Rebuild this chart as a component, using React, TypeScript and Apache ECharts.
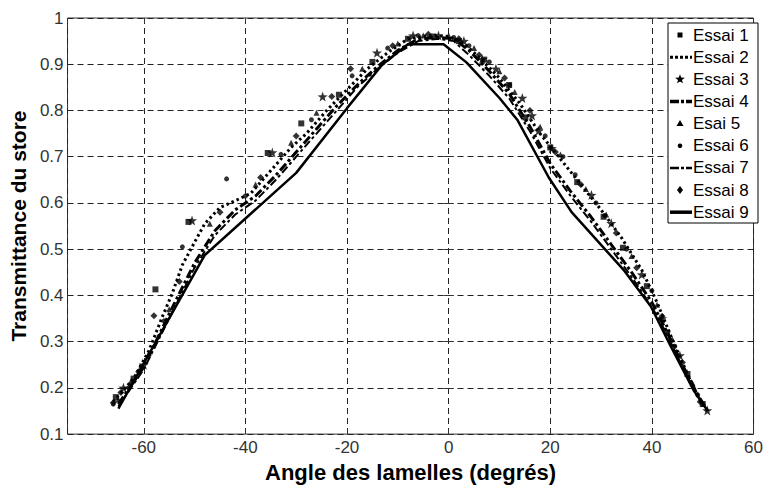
import React, { useEffect, useRef } from 'react';
import * as echarts from 'echarts';

const FONT = '"Liberation Sans", Arial, Helvetica, sans-serif';

const seriesNames = ['Essai 1', 'Essai 2', 'Essai 3', 'Essai 4', 'Esai 5', 'Essai 6', 'Essai 7', 'Essai 8', 'Essai 9'];
const xAxisTitle = 'Angle des lamelles (degrés)';
const yAxisTitle = 'Transmittance du store';

// Essai 1 – squares
const essai1: number[][] = [
  [-65.5, 0.18], [-62, 0.22], [-57.7, 0.413], [-51.2, 0.559], [-35.6, 0.708], [-29, 0.772],
  [-21.6, 0.834], [-15, 0.905], [-8, 0.955], [-3, 0.96], [2, 0.95], [7, 0.91], [11.9, 0.855],
  [15.1, 0.785], [20, 0.72], [25.3, 0.645], [30.5, 0.57], [34.3, 0.503], [39, 0.42], [43, 0.32],
  [47, 0.23], [50, 0.165],
];
// Essai 2 – dotted line
const essai2: number[][] = [
  [-66, 0.17], [-62, 0.22], [-59, 0.28], [-56.3, 0.355], [-54.4, 0.404], [-52.4, 0.466], [-50, 0.515],
  [-48, 0.555], [-45, 0.59], [-42, 0.605], [-39, 0.62], [-35, 0.67], [-31, 0.72], [-28, 0.75],
  [-24, 0.8], [-20, 0.845], [-16, 0.89], [-12, 0.925], [-8, 0.955], [-4, 0.962], [0, 0.96], [3, 0.945],
  [6, 0.915], [10, 0.87], [14, 0.815], [18, 0.75], [22, 0.695], [26, 0.64], [30, 0.585], [34, 0.525],
  [38, 0.455], [41, 0.385], [44, 0.305], [47, 0.23], [50, 0.16],
];
// Essai 3 – stars
const essai3: number[][] = [
  [-64, 0.2], [-60, 0.25], [-50.5, 0.562], [-34.7, 0.709], [-24.8, 0.83], [-14.1, 0.925], [-7, 0.962],
  [-2, 0.962], [3, 0.95], [6.6, 0.911], [9.3, 0.89], [14.5, 0.827], [16.4, 0.789], [17.7, 0.756],
  [20.3, 0.718], [28.1, 0.617], [32, 0.556], [38, 0.445], [42, 0.35], [45.5, 0.27], [50.9, 0.151],
];
// Essai 4 – thick dash-dot line
const essai4: number[][] = [
  [-65, 0.165], [-60, 0.245], [-55, 0.36], [-50, 0.47], [-46, 0.54], [-42, 0.585], [-38, 0.615],
  [-34, 0.66], [-30, 0.71], [-26, 0.76], [-22, 0.81], [-18, 0.855], [-14, 0.895], [-10, 0.93],
  [-6, 0.955], [-2, 0.958], [1, 0.955], [4, 0.93], [8, 0.885], [12, 0.835], [16, 0.765], [20, 0.685],
  [24, 0.625], [28, 0.57], [32, 0.51], [36, 0.45], [40, 0.385], [43, 0.32], [46, 0.25], [49, 0.185],
  [51, 0.15],
];
// Esai 5 – triangles
const essai5: number[][] = [
  [-65, 0.175], [-62.5, 0.215], [-59, 0.275], [-55, 0.37], [-47, 0.555], [-38, 0.64], [-31, 0.73],
  [-26, 0.795], [-17, 0.89], [-10, 0.945], [-5, 0.962], [0, 0.962], [5, 0.935], [10, 0.885], [13, 0.84],
  [18, 0.765], [22, 0.705], [27, 0.63], [31, 0.575], [36, 0.485], [41, 0.38], [44, 0.305], [48, 0.21],
];
// Essai 6 – dots
const essai6: number[][] = [
  [-66, 0.165], [-63, 0.2], [-60.5, 0.245], [-56, 0.345], [-52.4, 0.505], [-43.7, 0.652], [-40, 0.615],
  [-33, 0.705], [-27, 0.78], [-19, 0.875], [-12, 0.935], [-6, 0.962], [1, 0.958], [4, 0.94], [8, 0.905],
  [12, 0.855], [19, 0.745], [22.5, 0.7], [24.9, 0.661], [29, 0.6], [30.7, 0.573], [35, 0.5], [40, 0.41],
  [44.5, 0.29], [49, 0.185],
];
// Essai 7 – dash-dot line
const essai7: number[][] = [
  [-65, 0.16], [-60, 0.24], [-55, 0.35], [-50, 0.46], [-46, 0.53], [-42, 0.575], [-38, 0.605],
  [-34, 0.65], [-30, 0.7], [-26, 0.75], [-22, 0.8], [-18, 0.85], [-14, 0.89], [-10, 0.925],
  [-6, 0.95], [-2, 0.955], [1, 0.95], [4, 0.92], [8, 0.875], [12, 0.825], [16, 0.755], [20, 0.675],
  [24, 0.615], [28, 0.56], [32, 0.5], [36, 0.44], [40, 0.375], [43, 0.315], [46, 0.245], [49, 0.18],
  [51, 0.15],
];
// Essai 8 – diamonds
const essai8: number[][] = [
  [-66, 0.168], [-64.5, 0.19], [-61, 0.235], [-58, 0.356], [-53, 0.43], [-45, 0.58], [-37, 0.655],
  [-30, 0.745], [-23, 0.83], [-19.3, 0.89], [-11, 0.94], [-4, 0.965], [2, 0.955], [6, 0.92], [11, 0.87],
  [16, 0.8], [21, 0.71], [26, 0.64], [33, 0.535], [37, 0.46], [42, 0.355], [46, 0.255], [49.5, 0.17],
];
// Essai 9 – solid line
const essai9: number[][] = [
  [-65, 0.155], [-48, 0.487], [-30, 0.665], [-20, 0.805], [-13, 0.9], [-8, 0.943], [-1, 0.943],
  [3.5, 0.904], [10, 0.827], [13.5, 0.78], [19.7, 0.655], [24.2, 0.58], [34.6, 0.453], [39.8, 0.376],
  [43.7, 0.29], [48.3, 0.193], [51, 0.15],
];

const STAR = 'path://M0,-10 L2.35,-3.24 L9.51,-3.09 L3.8,1.24 L5.88,8.09 L0,4 L-5.88,8.09 L-3.8,1.24 L-9.51,-3.09 L-2.35,-3.24 Z';

function starPoints(cx: number, cy: number, r: number): number[][] {
  const pts: number[][] = [];
  for (let i = 0; i < 10; i++) {
    const a = -Math.PI / 2 + (i * Math.PI) / 5;
    const rr = i % 2 === 0 ? r : r * 0.42;
    pts.push([cx + rr * Math.cos(a), cy + rr * Math.sin(a)]);
  }
  return pts;
}

export default function App() {
  const ref = useRef<HTMLDivElement>(null);
  useEffect(() => {
    if (!ref.current) return;
    const chart = echarts.init(ref.current, null, { renderer: 'svg' });

    const lineSeries = (name: string, data: number[][], width: number, type: any) => ({
      name, type: 'line', data, symbol: 'none', z: 3,
      lineStyle: { color: '#000', width, type },
    });
    const markSeries = (name: string, data: number[][], symbol: string, size: number) => ({
      name, type: 'scatter', data, symbol, symbolSize: size, z: 4,
      itemStyle: { color: '#000' },
    });

    // legend drawn as graphic
    const lx = 668, ly = 23, lw = 90, lh = 200;
    const legendEls: any[] = [
      { type: 'rect', shape: { x: lx, y: ly, width: lw, height: lh }, style: { fill: '#fff', stroke: '#000', lineWidth: 1 }, z: 100 },
    ];
    const iconCx = 680;
    seriesNames.forEach((n, i) => {
      const cy = 35 + i * 22.15;
      legendEls.push({ type: 'text', x: 693, y: cy, z: 101, style: { text: n, fill: '#000', font: `17px ${FONT}`, align: 'left', verticalAlign: 'middle' } });
      const line = (w: number, dash: any) => ({ type: 'line', z: 101, shape: { x1: 670, y1: cy, x2: 692, y2: cy }, style: { stroke: '#000', lineWidth: w, lineDash: dash } });
      if (i === 0) legendEls.push({ type: 'rect', z: 101, shape: { x: iconCx - 2.5, y: cy - 2.5, width: 5, height: 5 }, style: { fill: '#000' } });
      if (i === 1) legendEls.push(line(3, [3, 2]));
      if (i === 2) legendEls.push({ type: 'polygon', z: 101, shape: { points: starPoints(iconCx, cy, 5) }, style: { fill: '#000' } });
      if (i === 3) legendEls.push(line(3.5, [9, 2, 3, 2]));
      if (i === 4) legendEls.push({ type: 'polygon', z: 101, shape: { points: [[iconCx, cy - 3.5], [iconCx + 3.5, cy + 2.5], [iconCx - 3.5, cy + 2.5]] }, style: { fill: '#000' } });
      if (i === 5) legendEls.push({ type: 'circle', z: 101, shape: { cx: iconCx, cy, r: 2.3 }, style: { fill: '#000' } });
      if (i === 6) legendEls.push(line(2.5, [9, 2, 3, 2]));
      if (i === 7) legendEls.push({ type: 'polygon', z: 101, shape: { points: [[iconCx, cy - 4], [iconCx + 3, cy], [iconCx, cy + 4], [iconCx - 3, cy]] }, style: { fill: '#000' } });
      if (i === 8) legendEls.push(line(3.5, null));
    });

    const tickStyle = { show: true, inside: true, length: 5, lineStyle: { color: '#333' } };

    chart.setOption({
      animation: false,
      backgroundColor: '#fff',
      grid: { left: 65, right: 9, top: 18, bottom: 44, show: true, borderColor: '#333', borderWidth: 1 },
      xAxis: [
        {
          type: 'value', min: -75, max: 60, splitNumber: 7,
          name: xAxisTitle, nameLocation: 'middle', nameGap: 20,
          nameTextStyle: { fontFamily: FONT, fontSize: 22, fontWeight: 'bold', color: '#000' },
          axisLine: { show: false },
          axisTick: tickStyle,
          axisLabel: { showMinLabel: false, fontFamily: FONT, fontSize: 17, color: '#333', margin: 5 },
          splitLine: { show: true, lineStyle: { color: '#222', width: 1, type: [6, 4] } },
        },
        {
          type: 'value', position: 'top', min: -75, max: 60, splitNumber: 7,
          axisLine: { show: false }, axisTick: tickStyle, axisLabel: { show: false }, splitLine: { show: false },
        },
      ],
      yAxis: [
        {
          type: 'value', min: 0.1, max: 1, interval: 0.1,
          name: yAxisTitle, nameLocation: 'middle', nameGap: 33, nameRotate: 90,
          nameTextStyle: { fontFamily: FONT, fontSize: 21, fontWeight: 'bold', color: '#000' },
          axisLine: { show: false },
          axisTick: tickStyle,
          axisLabel: { fontFamily: FONT, fontSize: 17, color: '#333', margin: 4, formatter: (v: number) => String(+v.toFixed(1)) },
          splitLine: { show: true, lineStyle: { color: '#222', width: 1, type: [6, 4] } },
        },
        {
          type: 'value', position: 'right', min: 0.1, max: 1, interval: 0.1,
          axisLine: { show: false }, axisTick: tickStyle, axisLabel: { show: false }, splitLine: { show: false },
        },
      ],
      series: [
        lineSeries('Essai 9', essai9, 2.5, 'solid'),
        lineSeries('Essai 7', essai7, 2, [8, 3, 3, 3]),
        lineSeries('Essai 4', essai4, 3, [9, 3, 3, 3]),
        lineSeries('Essai 2', essai2, 3, [2.5, 3]),
        markSeries('Essai 1', essai1, 'rect', 6),
        markSeries('Essai 3', essai3, STAR, 10),
        markSeries('Esai 5', essai5, 'triangle', 6),
        markSeries('Essai 6', essai6, 'circle', 5),
        markSeries('Essai 8', essai8, 'diamond', 7),
      ],
      graphic: legendEls,
    });
    return () => chart.dispose();
  }, []);
  return <div ref={ref} style={{ position: 'absolute', left: 0, top: 0, width: 766, height: 488, background: '#fff' }} />;
}
